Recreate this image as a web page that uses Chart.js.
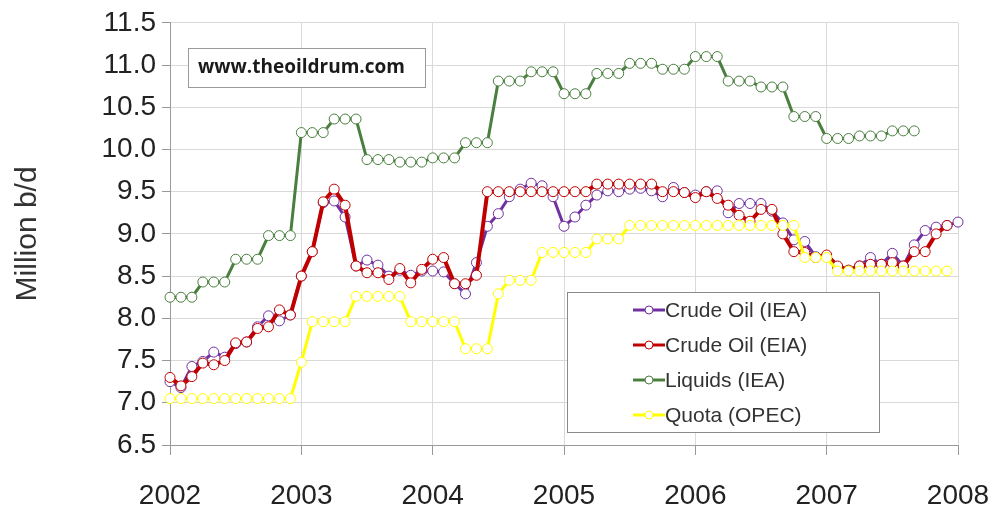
<!DOCTYPE html>
<html>
<head>
<meta charset="utf-8">
<script src="https://cdn.jsdelivr.net/npm/chart.js@4"></script>
<style>
  html, body { margin: 0; padding: 0; background: #fff; }
  #wrap { width: 1000px; height: 513px; position: relative; }
</style>
</head>
<body>
<div id="wrap"><canvas id="chart" width="1000" height="513"></canvas></div>
<script>
// months Jan 2002 .. Jan 2008
const years = [2002, 2003, 2004, 2005, 2006, 2007, 2008];
const months = [];
years.forEach(y => {
  for (let m = 1; m <= 12; m++) {
    if (y === 2008 && m > 1) break;
    months.push(y + "-" + String(m).padStart(2, "0"));
  }
});

const seriesNames = ["Crude Oil (IEA)", "Crude Oil (EIA)", "Liquids (IEA)", "Quota (OPEC)"];

const crudeIEA = [
  7.25, 7.18, 7.43, 7.49, 7.60, 7.54, 7.70, 7.72, 7.90, 8.03, 7.97, 8.04,
  8.50, 8.79, 9.37, 9.39, 9.20, 8.62, 8.69, 8.63, 8.50, 8.57, 8.51, 8.56,
  8.56, 8.55, 8.41, 8.29, 8.66, 9.09, 9.24, 9.44, 9.53, 9.60, 9.57, 9.44,
  9.09, 9.20, 9.34, 9.46, 9.51, 9.50, 9.53, 9.54, 9.51, 9.44, 9.55, 9.49,
  9.46, 9.50, 9.51, 9.25, 9.36, 9.36, 9.36, 9.27, 9.13, 8.93, 8.91, 8.73,
  8.73, 8.61, 8.57, 8.62, 8.72, 8.64, 8.77, 8.62, 8.87, 9.04, 9.08, 9.10,
  9.14
];

const crudeEIA = [
  7.30, 7.20, 7.31, 7.47, 7.45, 7.50, 7.71, 7.72, 7.88, 7.90, 8.10, 8.04,
  8.50, 8.79, 9.38, 9.53, 9.34, 8.62, 8.54, 8.54, 8.46, 8.59, 8.42, 8.58,
  8.70, 8.72, 8.41, 8.41, 8.51, 9.50, 9.50, 9.50, 9.50, 9.50, 9.50, 9.50,
  9.50, 9.50, 9.50, 9.59, 9.59, 9.59, 9.59, 9.59, 9.59, 9.50, 9.50, 9.49,
  9.43, 9.50, 9.42, 9.34, 9.22, 9.15, 9.29, 9.29, 9.00, 8.79, 8.78, 8.72,
  8.75, 8.62, 8.57, 8.62, 8.64, 8.64, 8.66, 8.62, 8.79, 8.79, 9.00, 9.10
];

const liquidsIEA = [
  8.25, 8.25, 8.25, 8.43, 8.43, 8.43, 8.70, 8.70, 8.70, 8.98, 8.98, 8.98,
  10.20, 10.20, 10.20, 10.36, 10.36, 10.36, 9.88, 9.88, 9.88, 9.85, 9.85, 9.85,
  9.90, 9.90, 9.90, 10.08, 10.08, 10.08, 10.81, 10.81, 10.81, 10.92, 10.92, 10.92,
  10.66, 10.66, 10.66, 10.90, 10.90, 10.90, 11.02, 11.02, 11.02, 10.95, 10.95, 10.95,
  11.10, 11.10, 11.10, 10.81, 10.81, 10.81, 10.74, 10.74, 10.74, 10.39, 10.39, 10.39,
  10.13, 10.13, 10.13, 10.16, 10.16, 10.16, 10.22, 10.22, 10.22
];

const quotaOPEC = [
  7.05, 7.05, 7.05, 7.05, 7.05, 7.05, 7.05, 7.05, 7.05, 7.05, 7.05, 7.05,
  7.48, 7.96, 7.96, 7.96, 7.96, 8.26, 8.26, 8.26, 8.26, 8.26, 7.96, 7.96,
  7.96, 7.96, 7.96, 7.64, 7.64, 7.64, 8.29, 8.45, 8.45, 8.45, 8.78, 8.78,
  8.78, 8.78, 8.78, 8.94, 8.94, 8.94, 9.10, 9.10, 9.10, 9.10, 9.10, 9.10,
  9.10, 9.10, 9.10, 9.10, 9.10, 9.10, 9.10, 9.10, 9.10, 9.10, 8.72, 8.72,
  8.72, 8.56, 8.56, 8.56, 8.56, 8.56, 8.56, 8.56, 8.56, 8.56, 8.56, 8.56
];

const colors = ["#7030a0", "#c00000", "#4a7f3f", "#ffff00"];
const lineWidths = [3, 4, 3, 3];

function makeSet(i, data, order) {
  return {
    label: seriesNames[i],
    data: data,
    borderColor: colors[i],
    borderWidth: lineWidths[i],
    pointRadius: 5,
    pointBorderWidth: 1,
    pointBorderColor: colors[i],
    pointBackgroundColor: "#fff",
    tension: 0,
    order: order
  };
}

const GRID = "#d9d9d9";
const FONT = "'Liberation Sans', Arial, sans-serif";

const boxes = {
  id: "boxes",
  afterDraw(chart) {
    const ctx = chart.ctx;
    ctx.save();
    // site label
    ctx.fillStyle = "#fff";
    ctx.strokeStyle = "#9a9a9a";
    ctx.lineWidth = 1;
    ctx.fillRect(188.5, 48.5, 237, 39);
    ctx.strokeRect(188.5, 48.5, 237, 39);
    ctx.fillStyle = "#1a1a1a";
    ctx.font = "bold 19px 'Open Sans', sans-serif";
    ctx.textBaseline = "middle";
    ctx.textAlign = "left";
    ctx.fillText("www.theoildrum.com", 198, 68);

    // legend
    ctx.fillStyle = "#fff";
    ctx.strokeStyle = "#8a8a8a";
    ctx.fillRect(567.5, 292.5, 312, 140);
    ctx.strokeRect(567.5, 292.5, 312, 140);
    ctx.font = "21px " + FONT;
    seriesNames.forEach((name, i) => {
      const y = 310 + i * 35;
      ctx.strokeStyle = colors[i];
      ctx.lineWidth = 3;
      ctx.beginPath();
      ctx.moveTo(633, y);
      ctx.lineTo(665, y);
      ctx.stroke();
      ctx.beginPath();
      ctx.arc(649, y, 4, 0, Math.PI * 2);
      ctx.fillStyle = "#fff";
      ctx.fill();
      ctx.lineWidth = 1;
      ctx.stroke();
      ctx.fillStyle = "#333";
      ctx.fillText(name, 665, y + 1);
    });
    ctx.restore();
  }
};

new Chart(document.getElementById("chart"), {
  type: "line",
  data: {
    labels: months,
    datasets: [
      makeSet(0, crudeIEA, 3),
      makeSet(1, crudeEIA, 2),
      makeSet(2, liquidsIEA, 1),
      makeSet(3, quotaOPEC, 0)
    ]
  },
  options: {
    responsive: false,
    animation: false,
    layout: { padding: { top: 22, right: 42, left: 0, bottom: 0 } },
    plugins: {
      legend: { display: false },
      tooltip: { enabled: false }
    },
    scales: {
      x: {
        afterFit: s => {
          s.height = 68;
          s.paddingLeft = 0;
          s.paddingRight = 0;
        },
        grid: {
          color: c => (c.index % 12 === 0 ? GRID : "rgba(0,0,0,0)"),
          tickColor: c => (c.index % 12 === 0 ? "#999" : "rgba(0,0,0,0)"),
          tickLength: 10
        },
        border: { color: "#999" },
        ticks: {
          autoSkip: false,
          maxRotation: 0,
          padding: 24,
          color: "#222",
          font: { family: FONT, size: 28 },
          callback: function (v) {
            const lab = this.getLabelForValue(v);
            return lab.endsWith("-01") ? lab.slice(0, 4) : "";
          }
        }
      },
      y: {
        min: 6.5,
        max: 11.5,
        afterFit: s => { s.width = 170; },
        grid: { color: GRID, tickColor: "#999", tickLength: 8 },
        border: { color: "#999" },
        ticks: {
          stepSize: 0.5,
          padding: 6,
          color: "#222",
          font: { family: FONT, size: 28 },
          callback: v => v.toFixed(1)
        },
        title: {
          display: true,
          text: "Million b/d",
          color: "#333",
          font: { family: FONT, size: 30 },
          padding: { top: 10, bottom: 0 }
        }
      }
    }
  },
  plugins: [boxes]
});
</script>
</body>
</html>
